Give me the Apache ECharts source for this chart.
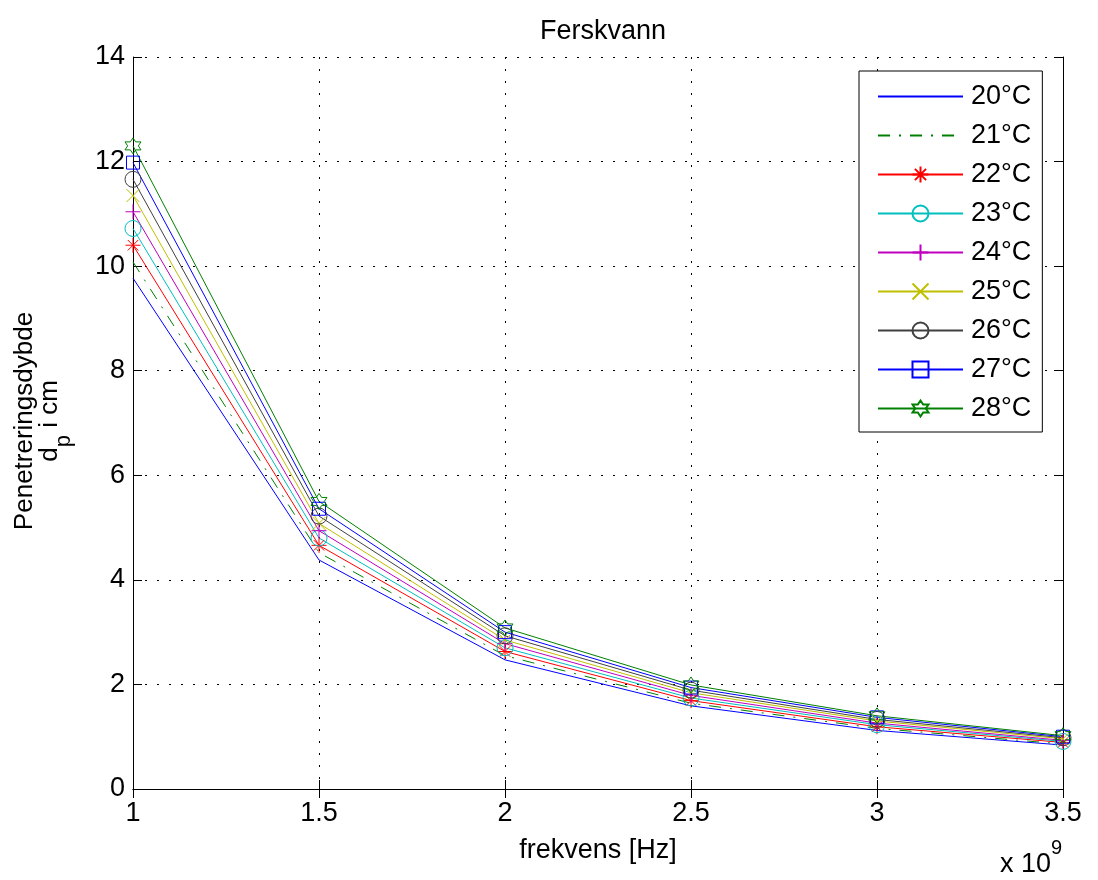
<!DOCTYPE html>
<html style="height: 100%">
<head>
	<meta charset="utf-8">
</head>
<body style="height: 100%; margin: 0; background: #fff">
	<div id="container" style="width: 1098px; height: 880px;"></div>
	<script type="text/javascript" src="https://cdn.jsdelivr.net/npm/echarts@6/dist/echarts.min.js"></script>
	<script type="text/javascript">
		// frekvens (x 10^9 Hz)
		let xVals = [1, 1.5, 2, 2.5, 3, 3.5];
		let tempNames = ['20°C', '21°C', '22°C', '23°C', '24°C', '25°C', '26°C', '27°C', '28°C'];
		// penetreringsdybde i cm, en liste per temperatur
		let d20 = [9.77, 4.38, 2.47, 1.59, 1.12, 0.84];
		let d21 = [10.08, 4.52, 2.55, 1.64, 1.16, 0.86];
		let d22 = [10.40, 4.66, 2.63, 1.69, 1.19, 0.89];
		let d23 = [10.72, 4.80, 2.70, 1.74, 1.23, 0.91];
		let d24 = [11.04, 4.94, 2.78, 1.79, 1.26, 0.93];
		let d25 = [11.35, 5.08, 2.85, 1.84, 1.30, 0.96];
		let d26 = [11.66, 5.22, 2.93, 1.89, 1.33, 0.98];
		let d27 = [11.98, 5.36, 3.00, 1.94, 1.37, 1.00];
		let d28 = [12.30, 5.50, 3.08, 1.99, 1.40, 1.02];
		let allData = [d20, d21, d22, d23, d24, d25, d26, d27, d28];

		let colors = ['#0000ff', '#008000', '#ff0000', '#00bfbf', '#bf00bf', '#bfbf00', '#404040', '#0000ff', '#008000'];
		let asterisk = 'path://M50 0L50 100M0 50L100 50M15 15L85 85M85 15L15 85';
		let plus = 'path://M50 0L50 100M0 50L100 50';
		let cross = 'path://M0 0L100 100M100 0L0 100';
		let hexagram = 'path://M50 0L64.43 25L93.3 25L78.87 50L93.3 75L64.43 75L50 100L35.57 75L6.7 75L21.13 50L6.7 25L35.57 25Z';
		let symbols = ['none', 'none', asterisk, 'circle', plus, cross, 'circle', 'rect', hexagram];
		let sizes = [0, 0, 15, 16, 15, 13, 16, 13, 16];

		let font = 'Liberation Sans, Arial, Helvetica, sans-serif';
		let fs = 27;
		let dom = document.getElementById("container");
		let myChart = echarts.init(dom);

		let seriesData = [];
		let legendData = [];
		for (let k = 0; k < allData.length; k++) {
			let pts = [];
			for (let i = 0; i < xVals.length; i++) {
				pts.push([xVals[i], allData[k][i]]);
			}
			seriesData.push({
				name: tempNames[k],
				type: 'line',
				data: pts,
				symbol: symbols[k],
				symbolSize: sizes[k],
				showSymbol: symbols[k] !== 'none',
				clip: false,
				lineStyle: {
					color: colors[k],
					width: 1,
					type: k === 1 ? [12, 9, 2, 9] : 'solid'
				},
				itemStyle: {
					color: 'none',
					borderColor: colors[k],
					borderWidth: 1
				},
				emphasis: { disabled: true }
			});
			// linjer uten markør skal ikke ha symbol i legenden
			if (symbols[k] === 'none') {
				legendData.push({ name: tempNames[k], itemStyle: { borderColor: 'transparent', borderWidth: 0, color: 'none' } });
			} else {
				legendData.push({ name: tempNames[k] });
			}
		}

		let hiddenAxis = {
			axisLine: { show: true, lineStyle: { color: '#000', width: 1 } },
			axisTick: { show: true, inside: true, length: 9, lineStyle: { color: '#000' } },
			axisLabel: { show: false },
			splitLine: { show: false }
		};

		let option = {
			animation: false,
			backgroundColor: '#fff',
			title: {
				text: 'Ferskvann',
				left: 598,
				top: 13,
				textAlign: 'center',
				textStyle: { fontFamily: font, fontSize: fs, fontWeight: 'normal', color: '#000' }
			},
			grid: { left: 133, right: 35, top: 57, bottom: 91 },
			legend: {
				orient: 'vertical',
				left: 859,
				top: 71,
				padding: [12, 11, 10, 18],
				itemWidth: 85,
				itemHeight: 20,
				itemGap: 12,
				backgroundColor: '#fff',
				borderColor: '#000',
				borderWidth: 1,
				borderRadius: 0,
				textStyle: { fontFamily: font, fontSize: fs, color: '#000', padding: [0, 0, 0, 3] },
				data: legendData
			},
			xAxis: [
				{
					type: 'value',
					min: 1,
					max: 3.5,
					interval: 0.5,
					name: 'frekvens [Hz]',
					nameLocation: 'middle',
					nameGap: 48,
					nameTextStyle: { fontFamily: font, fontSize: fs, color: '#000' },
					axisLine: { show: true, lineStyle: { color: '#000', width: 1 } },
					axisTick: { show: true, inside: true, length: 9, lineStyle: { color: '#000' } },
					axisLabel: { fontFamily: font, fontSize: fs, color: '#000', margin: 11 },
					splitLine: { show: true, lineStyle: { color: '#000', type: [2, 10], width: 1 } }
				},
				Object.assign({ type: 'value', min: 1, max: 3.5, interval: 0.5, position: 'top' }, hiddenAxis)
			],
			yAxis: [
				{
					type: 'value',
					min: 0,
					max: 14,
					interval: 2,
					axisLine: { show: true, lineStyle: { color: '#000', width: 1 } },
					axisTick: { show: true, inside: true, length: 9, lineStyle: { color: '#000' } },
					axisLabel: { fontFamily: font, fontSize: fs, color: '#000', margin: 8 },
					splitLine: { show: true, lineStyle: { color: '#000', type: [2, 10], width: 1 } }
				},
				Object.assign({ type: 'value', min: 0, max: 14, interval: 2, position: 'right' }, hiddenAxis)
			],
			graphic: [
				{
					type: 'text',
					x: 25,
					y: 421,
					rotation: Math.PI / 2,
					style: {
						text: 'Penetreringsdybde',
						fontFamily: font, fontSize: 26, fill: '#000',
						align: 'center', verticalAlign: 'middle'
					}
				},
				{
					type: 'text',
					x: 56,
					y: 421,
					rotation: Math.PI / 2,
					style: {
						text: '{a|d}{b|p}{a| i cm}',
						fontFamily: font, fontSize: 26, fill: '#000',
						align: 'center', verticalAlign: 'middle',
						rich: {
							a: { fontFamily: font, fontSize: 26, lineHeight: 38, verticalAlign: 'top' },
							b: { fontFamily: font, fontSize: 22, lineHeight: 38, verticalAlign: 'bottom' }
						}
					}
				},
				{
					type: 'text',
					x: 1000,
					y: 838,
					style: {
						text: '{a|x 10}{b|9}',
						fontFamily: font, fontSize: fs, fill: '#000',
						rich: {
							a: { fontFamily: font, fontSize: fs, lineHeight: 40, verticalAlign: 'bottom' },
							b: { fontFamily: font, fontSize: 20, lineHeight: 40, verticalAlign: 'top' }
						}
					}
				}
			],
			series: seriesData
		};

		myChart.setOption(option);
	</script>
</body>
</html>
